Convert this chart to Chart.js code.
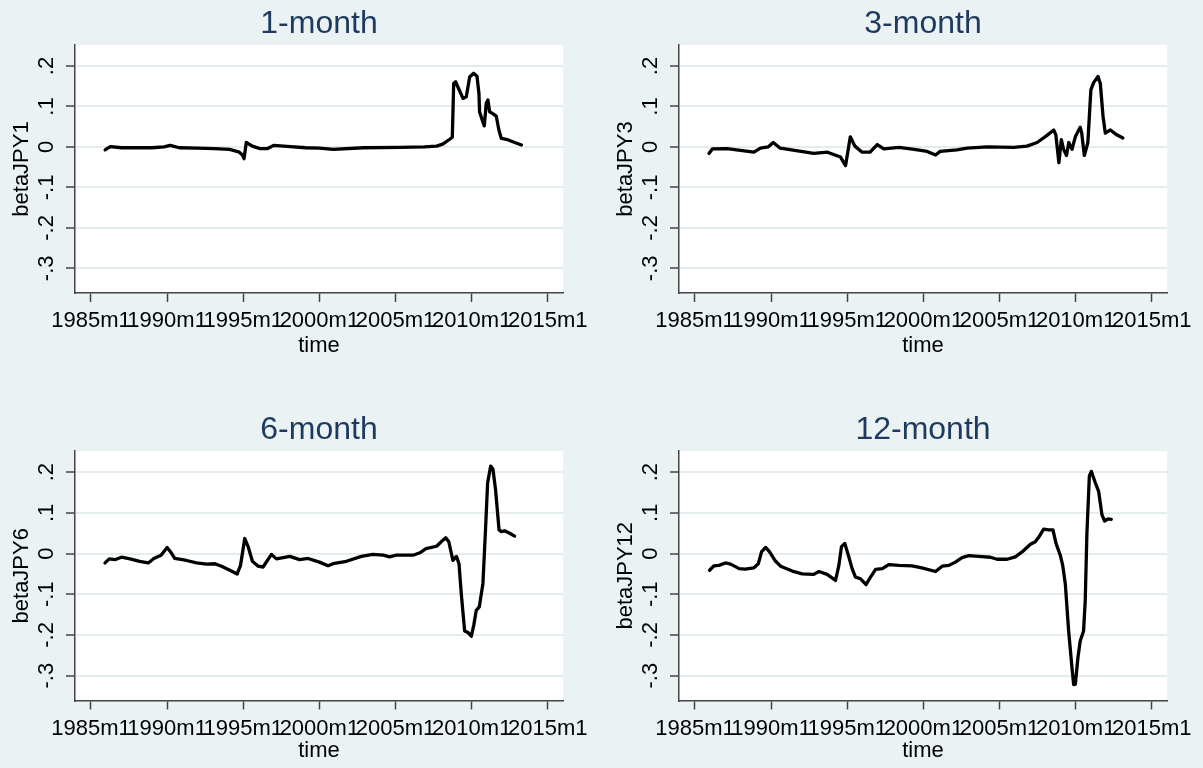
<!DOCTYPE html>
<html><head><meta charset="utf-8">
<script src="https://cdn.jsdelivr.net/npm/chart.js@4/dist/chart.umd.min.js"></script>
<style>
html,body{margin:0;padding:0;background:#EAF2F3;width:1203px;height:768px;overflow:hidden;}
canvas{position:absolute;}
</style></head><body>
<canvas id="c1" width="601" height="384" style="left:0px;top:0px"></canvas>
<canvas id="c3" width="601" height="384" style="left:604px;top:0px"></canvas>
<canvas id="c6" width="601" height="362" style="left:0px;top:406px"></canvas>
<canvas id="c12" width="601" height="362" style="left:604px;top:406px"></canvas>
<script>
// ---- Tick values / labels ----
const xTickVals = [1985, 1990, 1995, 2000, 2005, 2010, 2015];
const xTickLabels = ["1985m1", "1990m1", "1995m1", "2000m1", "2005m1", "2010m1", "2015m1"];
const yTickVals = [0.2, 0.1, 0, -0.1, -0.2, -0.3];
const yTickLabels = [".2", ".1", "0", "-.1", "-.2", "-.3"];

// ---- Panel titles ----
const panelTitles = ["1-month", "3-month", "6-month", "12-month"];
const yTitles = ["betaJPY1", "betaJPY3", "betaJPY6", "betaJPY12"];

// ---- 1-month series (time in years, beta) ----
const t1 = [1985.93, 1986.1, 1986.3, 1987.0, 1988.0, 1989.0, 1989.8, 1990.2, 1990.8, 1992.0,
  1993.1, 1994.1, 1994.7, 1994.95, 1995.05, 1995.2, 1995.6, 1996.1, 1996.6, 1997.0,
  1998.1, 1999.1, 2000.0, 2000.9, 2002.9, 2005.3, 2006.9, 2007.7, 2008.1, 2008.56,
  2008.73, 2008.82, 2008.95, 2009.17, 2009.43, 2009.65, 2009.87, 2010.13, 2010.35, 2010.48,
  2010.52, 2010.7, 2010.83, 2010.96, 2011.07, 2011.18, 2011.36, 2011.62, 2011.79, 2011.95,
  2012.28, 2012.7, 2013.27];
const b1 = [-0.007, -0.003, 0.001, -0.002, -0.002, -0.002, 0.0, 0.004, -0.002, -0.003,
  -0.004, -0.006, -0.012, -0.02, -0.029, 0.011, 0.002, -0.004, -0.004, 0.004,
  0.001, -0.002, -0.003, -0.006, -0.002, -0.001, 0.0, 0.002, 0.007, 0.019,
  0.024, 0.157, 0.161, 0.142, 0.12, 0.124, 0.173, 0.182, 0.175, 0.132,
  0.087, 0.066, 0.052, 0.108, 0.116, 0.087, 0.083, 0.076, 0.042, 0.021,
  0.019, 0.013, 0.005];

// ---- 3-month series ----
const t3 = [1985.92, 1986.14, 1987.1, 1988.87, 1989.3, 1989.8, 1990.14, 1990.6, 1992.8, 1993.7,
  1994.56, 1994.89, 1995.2, 1995.5, 1995.98, 1996.5, 1996.97, 1997.4, 1998.4, 1999.4,
  2000.25, 2000.8, 2001.1, 2002.2, 2002.87, 2004.2, 2005.93, 2006.8, 2007.47, 2008.1,
  2008.56, 2008.7, 2008.9, 2009.06, 2009.2, 2009.4, 2009.55, 2009.76, 2009.98, 2010.3,
  2010.4, 2010.57, 2010.8, 2011.0, 2011.18, 2011.47, 2011.62, 2011.8, 2011.95, 2012.28,
  2012.7, 2013.1];
const b3 = [-0.016, -0.005, -0.004, -0.013, -0.003, 0.0, 0.011, -0.003, -0.016, -0.013,
  -0.025, -0.046, 0.025, 0.002, -0.013, -0.013, 0.006, -0.005, -0.001, -0.006,
  -0.011, -0.02, -0.011, -0.007, -0.003, 0.0, -0.001, 0.002, 0.011, 0.028,
  0.042, 0.03, -0.039, 0.018, -0.005, -0.021, 0.011, -0.006, 0.025, 0.049,
  0.034, -0.021, 0.01, 0.141, 0.159, 0.174, 0.157, 0.075, 0.034, 0.042,
  0.03, 0.022];

// ---- 6-month series ----
const t6 = [1985.92, 1986.2, 1986.57, 1987.0, 1987.56, 1988.2, 1988.76, 1989.13, 1989.6, 1990.0,
  1990.23, 1990.5, 1991.28, 1991.93, 1992.6, 1993.14, 1993.57, 1994.12, 1994.6, 1994.82,
  1995.1, 1995.32, 1995.6, 1995.98, 1996.3, 1996.85, 1997.18, 1998.06, 1998.7, 1999.26,
  2000.0, 2000.57, 2000.9, 2001.78, 2002.76, 2003.5, 2004.2, 2004.6, 2005.06, 2006.15,
  2006.6, 2007.0, 2007.7, 2008.0, 2008.3, 2008.5, 2008.77, 2009.0, 2009.17, 2009.32,
  2009.54, 2009.76, 2009.98, 2010.15, 2010.3, 2010.5, 2010.74, 2010.9, 2011.05, 2011.25,
  2011.4, 2011.57, 2011.8, 2011.95, 2012.17, 2012.5, 2012.82];
const b6 = [-0.023, -0.013, -0.015, -0.009, -0.013, -0.019, -0.023, -0.012, -0.004, 0.015,
  0.004, -0.012, -0.017, -0.023, -0.026, -0.025, -0.031, -0.041, -0.05, -0.029,
  0.037, 0.017, -0.019, -0.031, -0.033, -0.002, -0.013, -0.007, -0.015, -0.012,
  -0.021, -0.03, -0.025, -0.019, -0.007, -0.002, -0.004, -0.008, -0.004, -0.004,
  0.002, 0.012, 0.018, 0.029, 0.039, 0.029, -0.017, -0.007, -0.025, -0.099,
  -0.19, -0.194, -0.203, -0.174, -0.14, -0.131, -0.074, 0.05, 0.174, 0.215,
  0.207, 0.157, 0.058, 0.054, 0.056, 0.05, 0.043];

// ---- 12-month series ----
const t12 = [1985.96, 1986.25, 1986.57, 1987.0, 1987.34, 1987.9, 1988.3, 1988.87, 1989.16, 1989.37,
  1989.64, 1989.9, 1990.25, 1990.62, 1991.39, 1992.04, 1992.8, 1993.14, 1993.68, 1994.23,
  1994.45, 1994.62, 1994.84, 1995.1, 1995.32, 1995.54, 1995.87, 1996.24, 1996.53, 1996.86,
  1997.3, 1997.73, 1998.39, 1999.26, 1999.9, 2000.8, 2001.23, 2001.67, 2002.1, 2002.54,
  2002.98, 2003.63, 2004.4, 2004.84, 2005.5, 2006.04, 2006.48, 2007.03, 2007.35, 2007.57,
  2007.9, 2008.23, 2008.51, 2008.71, 2008.99, 2009.15, 2009.32, 2009.54, 2009.76, 2009.87,
  2009.98, 2010.15, 2010.3, 2010.52, 2010.63, 2010.74, 2010.9, 2011.03, 2011.29, 2011.51,
  2011.73, 2011.9, 2012.12, 2012.34];
const b12 = [-0.041, -0.03, -0.029, -0.023, -0.026, -0.037, -0.038, -0.035, -0.025, 0.004,
  0.015, 0.004, -0.017, -0.031, -0.043, -0.05, -0.051, -0.044, -0.051, -0.066,
  -0.029, 0.017, 0.025, -0.008, -0.037, -0.058, -0.062, -0.076, -0.058, -0.039,
  -0.037, -0.027, -0.029, -0.03, -0.035, -0.044, -0.031, -0.029, -0.021, -0.01,
  -0.005, -0.007, -0.009, -0.014, -0.014, -0.008, 0.004, 0.023, 0.029, 0.04,
  0.06, 0.058, 0.058, 0.025, -0.004, -0.029, -0.074, -0.19, -0.281, -0.322,
  -0.321, -0.256, -0.215, -0.19, -0.116, 0.05, 0.19, 0.202, 0.174, 0.153,
  0.095, 0.08, 0.085, 0.084];

Chart.defaults.font.family = "'Liberation Sans', Arial, sans-serif";
Chart.defaults.color = '#000';

const plotBg = {
  id: 'plotBg',
  beforeDraw(chart) {
    const {ctx, chartArea: a} = chart;
    ctx.save();
    ctx.fillStyle = '#ffffff';
    ctx.fillRect(a.left, a.top, a.right - a.left, a.bottom - a.top);
    ctx.restore();
  }
};

function makePanel(id, title, ytitle, t, v, bottom) {
  const pts = t.map((x, i) => ({x: x, y: v[i]}));
  new Chart(document.getElementById(id), {
    type: 'line',
    data: { datasets: [{ data: pts, borderColor: '#000', borderWidth: 3.3, pointRadius: 0,
      tension: 0, borderJoinStyle: 'round', borderCapStyle: 'round', fill: false }] },
    options: {
      responsive: false, animation: false, devicePixelRatio: 1,
      layout: { padding: { left: 7, right: 38, top: 0, bottom: bottom ? 4 : 25 } },
      plugins: {
        legend: { display: false }, tooltip: { enabled: false },
        title: { display: true, text: title, fullSize: false, color: '#1E3A5F',
          font: { size: 32, weight: 'normal' }, padding: { top: 4.5, bottom: 2.1 } }
      },
      scales: {
        x: {
          type: 'linear', min: 1983.95, max: 2016.0,
          afterBuildTicks: s => { s.ticks = xTickVals.map(val => ({value: val})); },
          afterFit: s => { s.height = bottom ? 63.5 : 66; },
          ticks: { autoSkip: false, maxRotation: 0, minRotation: 0, padding: 6,
            font: { size: 22 }, color: '#000',
            callback: (val, i) => xTickLabels[i] },
          grid: { drawOnChartArea: false, drawTicks: true, tickLength: 9, tickColor: '#444', tickWidth: 1.5 },
          border: { display: true, color: '#444', width: 1.5 },
          title: { display: true, text: 'time', font: { size: 22 }, color: '#000', padding: 0 }
        },
        y: {
          type: 'linear', min: -0.361, max: 0.252,
          afterBuildTicks: s => { s.ticks = yTickVals.map(val => ({value: val})); },
          afterFit: s => { s.width = 68; },
          ticks: { minRotation: 90, maxRotation: 90, crossAlign: 'center', padding: 6,
            font: { size: 22 }, color: '#000',
            callback: (val, i) => yTickLabels[i] },
          grid: { color: '#E4ECEF', lineWidth: 2, drawTicks: true, tickLength: 9, tickColor: '#444', tickWidth: 1.5 },
          border: { display: true, color: '#444', width: 1.5 },
          title: { display: true, text: ytitle, font: { size: 22 }, color: '#000', padding: { top: 2, bottom: 0 } }
        }
      }
    },
    plugins: [plotBg]
  });
}

makePanel('c1', panelTitles[0], yTitles[0], t1, b1, false);
makePanel('c3', panelTitles[1], yTitles[1], t3, b3, false);
makePanel('c6', panelTitles[2], yTitles[2], t6, b6, true);
makePanel('c12', panelTitles[3], yTitles[3], t12, b12, true);
</script>
</body></html>
